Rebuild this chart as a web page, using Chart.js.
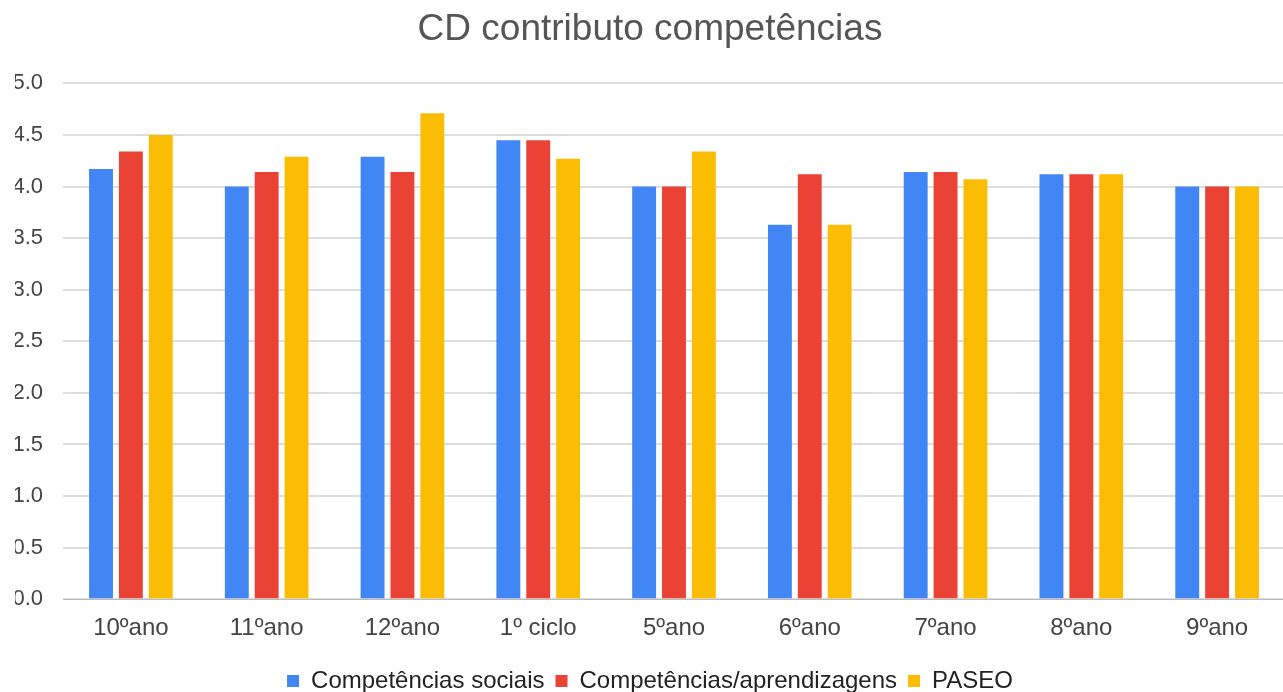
<!DOCTYPE html>
<html>
<head>
<meta charset="utf-8">
<script src="https://cdn.jsdelivr.net/npm/chart.js@4/dist/chart.umd.min.js"></script>
<style>
  html, body { margin: 0; padding: 0; background: #fff; overflow: hidden; }
  #wrap { position: absolute; left: 15px; top: 0; width: 1280px; height: 703px; }
</style>
</head>
<body>
<div id="wrap"><canvas id="chart"></canvas></div>
<script>
// categories and series
const categories = ["10ºano", "11ºano", "12ºano", "1º ciclo", "5ºano", "6ºano", "7ºano", "8ºano", "9ºano"];
const sociais = [4.17, 4.0, 4.29, 4.45, 4.0, 3.63, 4.14, 4.12, 4.0];
const aprendizagens = [4.34, 4.14, 4.14, 4.45, 4.0, 4.12, 4.14, 4.12, 4.0];
const paseo = [4.5, 4.29, 4.71, 4.27, 4.34, 3.63, 4.07, 4.12, 4.0];
const seriesNames = ["Competências sociais", "Competências/aprendizagens", "PASEO"];
const yTicks = [0, 0.5, 1, 1.5, 2, 2.5, 3, 3.5, 4, 4.5, 5];

const FONT = "Arial, 'Liberation Sans', sans-serif";

const ctx = document.getElementById("chart").getContext("2d");
new Chart(ctx, {
  type: "bar",
  data: {
    labels: categories,
    datasets: [
      { label: seriesNames[0], data: sociais, backgroundColor: "#4285F4" },
      { label: seriesNames[1], data: aprendizagens, backgroundColor: "#EA4335" },
      { label: seriesNames[2], data: paseo, backgroundColor: "#FBBC04" },
    ],
  },
  options: {
    responsive: true,
    maintainAspectRatio: false,
    animation: false,
    categoryPercentage: 0.66,
    barPercentage: 0.8,
    layout: { padding: { left: 0, right: 10, top: 0, bottom: 0 } },
    plugins: {
      title: {
        display: true,
        text: "CD contributo competências",
        color: "#555",
        font: { family: FONT, size: 37, weight: "normal" },
        padding: { top: 8, bottom: 31 },
      },
      legend: {
        position: "bottom",
        labels: {
          boxWidth: 12,
          boxHeight: 12,
          padding: 11,
          color: "#222",
          font: { family: FONT, size: 24 },
        },
      },
      tooltip: { enabled: false },
    },
    scales: {
      x: {
        grid: { display: false, drawTicks: false },
        border: { color: "#bbb", width: 1 },
        ticks: { color: "#444", font: { family: FONT, size: 24 }, padding: 15 },
      },
      y: {
        min: 0,
        max: 5,
        afterBuildTicks: (axis) => {
          axis.ticks = yTicks.map((v) => ({ value: v }));
        },
        afterFit: (axis) => {
          axis.width = 48;
        },
        grid: { color: "#ddd", lineWidth: 2, drawTicks: false },
        border: { display: false },
        ticks: {
          color: "#444",
          font: { family: FONT, size: 22 },
          padding: 20,
          callback: (v) => Number(v).toFixed(1),
        },
      },
    },
  },
});
</script>
</body>
</html>
